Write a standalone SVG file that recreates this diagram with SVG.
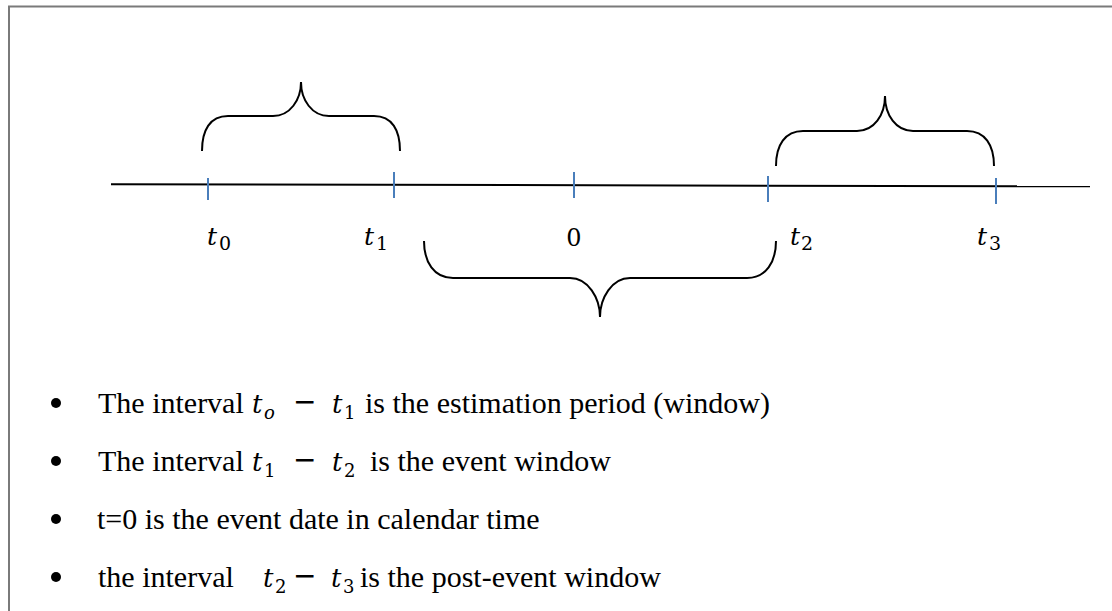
<svg xmlns="http://www.w3.org/2000/svg" width="1112" height="611" viewBox="0 0 1112 611">
<style>
.frame{stroke:#7a7a7a;stroke-width:2;fill:none}
.axis{stroke:#000;stroke-width:2;fill:none}
.tick{stroke:#4a7ebb;stroke-width:2}
.brace{stroke:#000;stroke-width:2;fill:none}
.lbl{font-family:"DejaVu Serif",serif;font-style:italic;font-size:25px;fill:#000}
.sub{font-family:"DejaVu Serif",serif;font-style:normal;font-size:19px;fill:#000}
.num{font-family:"DejaVu Serif",serif;font-size:24px;fill:#000}
.body{font-family:"Liberation Serif",serif;font-size:30px;fill:#000}
.mi{font-family:"DejaVu Serif",serif;font-style:italic;font-size:26px}
.ms{font-family:"DejaVu Serif",serif;font-size:18px}
.mo{font-family:"DejaVu Sans",sans-serif;font-size:28px}
</style>
<rect width="1112" height="611" fill="#fff"/>
<g id="frame">
<line class="frame" x1="8" y1="6.5" x2="1112" y2="6.5"/>
<line class="frame" x1="9" y1="6" x2="9" y2="611"/>
</g>
<g id="connectors">
<line id="axis" class="axis" x1="111" y1="184.3" x2="1090" y2="186.3"/>
<line class="tick" x1="208" y1="178" x2="208" y2="200"/>
<line class="tick" x1="394" y1="172" x2="394" y2="198"/>
<line class="tick" x1="574" y1="172" x2="574" y2="198"/>
<line class="tick" x1="768" y1="176" x2="768" y2="202"/>
<line class="tick" x1="996" y1="178" x2="996" y2="204"/>
</g>
<g id="brace-estimation">
<path class="brace" d="M202,151 C202,130 210,116 228,116 L273,116 C290,116 301,100 301,82 C301,100 312,116 329,116 L374,116 C392,116 400,130 400,151"/>
</g>
<g id="brace-post-event">
<path class="brace" d="M776,166 C776,145 785,131 803,131 L857,131 C874,131 885,115 885,96 C885,115 896,131 913,131 L967,131 C985,131 994,145 994,166"/>
</g>
<g id="brace-event">
<path class="brace" d="M424,241 C424,262 434,278 453,278 L570,278 C588,278 600,298 600,317 C600,298 612,278 630,278 L747,278 C766,278 776,262 776,241"/>
</g>
<g id="label-t0"><text class="lbl" x="207" y="245">t</text><text class="sub" x="219" y="250">0</text></g>
<g id="label-t1"><text class="lbl" x="364" y="245">t</text><text class="sub" x="376" y="250">1</text></g>
<g id="label-0"><text class="num" x="574" y="246" text-anchor="middle">0</text></g>
<g id="label-t2"><text class="lbl" x="790" y="245">t</text><text class="sub" x="801" y="250">2</text></g>
<g id="label-t3"><text class="lbl" x="977" y="245">t</text><text class="sub" x="989" y="250">3</text></g>
<g id="bullets">
<circle cx="56" cy="403" r="5"/>
<circle cx="56" cy="461" r="5"/>
<circle cx="56" cy="519" r="5"/>
<circle cx="56" cy="577" r="5"/>
<text class="body" y="413"><tspan x="252" class="mi">t</tspan><tspan x="264" dy="6" class="mi ms" font-style="italic">o</tspan><tspan x="293" dy="-8" class="mo">−</tspan><tspan x="332" dy="2" class="mi">t</tspan><tspan x="344" dy="6" class="ms">1</tspan></text>
<text class="body" x="98" y="413">The interval</text>
<text class="body" x="365" y="413">is the estimation period (window)</text>
<text class="body" y="471"><tspan x="252" class="mi">t</tspan><tspan x="264" dy="6" class="ms">1</tspan><tspan x="293" dy="-8" class="mo">−</tspan><tspan x="332" dy="2" class="mi">t</tspan><tspan x="344" dy="6" class="ms">2</tspan></text>
<text class="body" x="98" y="471">The interval</text>
<text class="body" x="370" y="471">is the event window</text>
<text class="body" x="97" y="529">t=0 is the event date in calendar time</text>
<text class="body" y="587"><tspan x="263" class="mi">t</tspan><tspan x="275" dy="6" class="ms">2</tspan><tspan x="293" dy="-8" class="mo">−</tspan><tspan x="331" dy="2" class="mi">t</tspan><tspan x="343" dy="6" class="ms">3</tspan></text>
<text class="body" x="98" y="587">the interval</text>
<text class="body" x="360" y="587">is the post-event window</text>
</g>
</svg>
